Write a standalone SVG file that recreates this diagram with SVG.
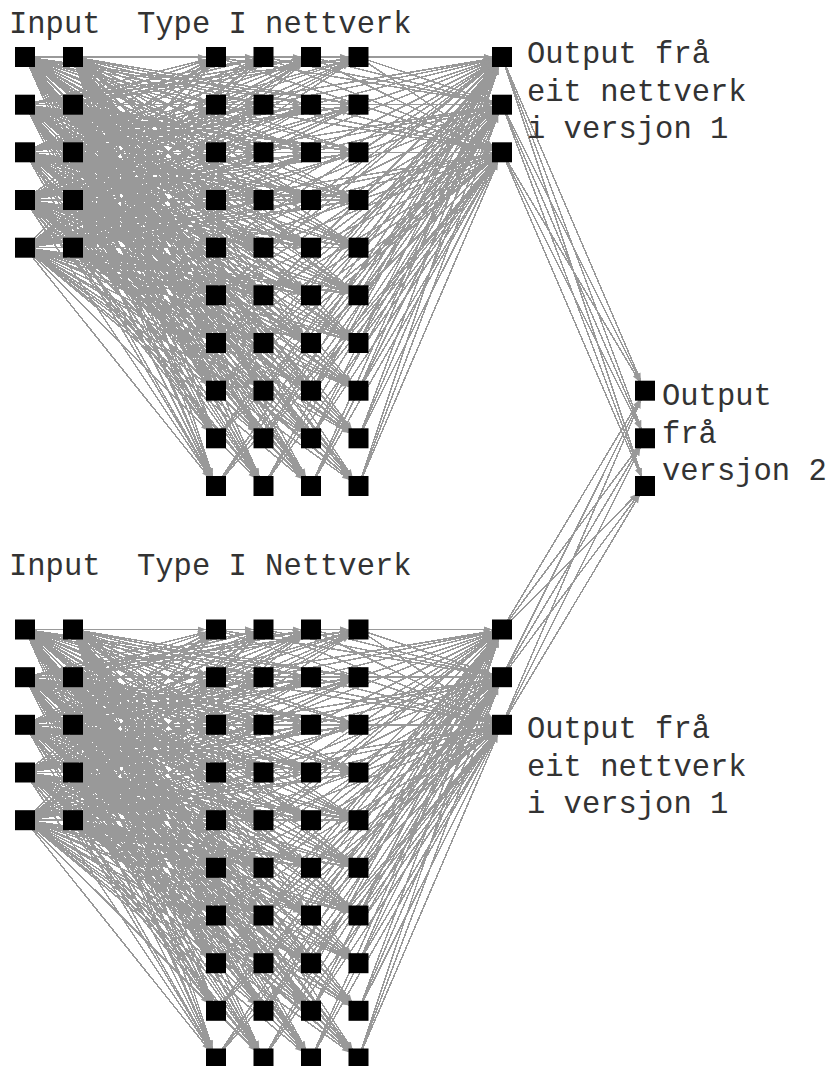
<svg xmlns="http://www.w3.org/2000/svg" xmlns:xlink="http://www.w3.org/1999/xlink" width="831" height="1066" viewBox="0 0 831 1066">
  <style>
    .n rect { fill: #000; }
    .e path { fill: none; stroke: #999; stroke-width: 1.5; marker-end: url(#ah); shape-rendering: crispEdges; }
    .t { font-family: "Liberation Mono", "Courier New", monospace; font-size: 30.5px; fill: #333; }
  </style>
  <defs>
    <!-- arrowhead whose tip stops at the edge of a 20px node square -->
    <marker id="ah" markerUnits="userSpaceOnUse" viewBox="0 0 20 8" markerWidth="20" markerHeight="8" refX="18.5" refY="4" orient="auto">
      <path d="M0 1L8 4L0 7z" fill="#999"/>
    </marker>
  </defs>
  <rect width="831" height="1066" fill="#fff"/>

  <g id="connectors">
    <!-- network A: input layer to hidden layer, hidden layer to output layer -->
    <g id="edges-a" class="e">
      <path d="M25 57L216 57"/><path d="M25 57L216 104.7"/><path d="M25 57L216 152.3"/><path d="M25 57L216 200"/><path d="M25 57L216 247.7"/><path d="M25 57L216 295.3"/><path d="M25 57L216 343"/><path d="M25 57L216 390.7"/><path d="M25 57L216 438.3"/><path d="M25 57L216 486"/>
      <path d="M25 57L263.5 57"/><path d="M25 57L263.5 104.7"/><path d="M25 57L263.5 152.3"/><path d="M25 57L263.5 200"/><path d="M25 57L263.5 247.7"/><path d="M25 57L263.5 295.3"/><path d="M25 57L263.5 343"/><path d="M25 57L263.5 390.7"/><path d="M25 57L263.5 438.3"/><path d="M25 57L263.5 486"/>
      <path d="M25 57L311 57"/><path d="M25 57L311 104.7"/><path d="M25 57L311 152.3"/><path d="M25 57L311 200"/><path d="M25 57L311 247.7"/><path d="M25 57L311 295.3"/><path d="M25 57L311 343"/><path d="M25 57L311 390.7"/><path d="M25 57L311 438.3"/><path d="M25 57L311 486"/>
      <path d="M25 57L358.5 57"/><path d="M25 57L358.5 104.7"/><path d="M25 57L358.5 152.3"/><path d="M25 57L358.5 200"/><path d="M25 57L358.5 247.7"/><path d="M25 57L358.5 295.3"/><path d="M25 57L358.5 343"/><path d="M25 57L358.5 390.7"/><path d="M25 57L358.5 438.3"/><path d="M25 57L358.5 486"/>

      <path d="M25 104.7L216 57"/><path d="M25 104.7L216 104.7"/><path d="M25 104.7L216 152.3"/><path d="M25 104.7L216 200"/><path d="M25 104.7L216 247.7"/><path d="M25 104.7L216 295.3"/><path d="M25 104.7L216 343"/><path d="M25 104.7L216 390.7"/><path d="M25 104.7L216 438.3"/><path d="M25 104.7L216 486"/>
      <path d="M25 104.7L263.5 57"/><path d="M25 104.7L263.5 104.7"/><path d="M25 104.7L263.5 152.3"/><path d="M25 104.7L263.5 200"/><path d="M25 104.7L263.5 247.7"/><path d="M25 104.7L263.5 295.3"/><path d="M25 104.7L263.5 343"/><path d="M25 104.7L263.5 390.7"/><path d="M25 104.7L263.5 438.3"/><path d="M25 104.7L263.5 486"/>
      <path d="M25 104.7L311 57"/><path d="M25 104.7L311 104.7"/><path d="M25 104.7L311 152.3"/><path d="M25 104.7L311 200"/><path d="M25 104.7L311 247.7"/><path d="M25 104.7L311 295.3"/><path d="M25 104.7L311 343"/><path d="M25 104.7L311 390.7"/><path d="M25 104.7L311 438.3"/><path d="M25 104.7L311 486"/>
      <path d="M25 104.7L358.5 57"/><path d="M25 104.7L358.5 104.7"/><path d="M25 104.7L358.5 152.3"/><path d="M25 104.7L358.5 200"/><path d="M25 104.7L358.5 247.7"/><path d="M25 104.7L358.5 295.3"/><path d="M25 104.7L358.5 343"/><path d="M25 104.7L358.5 390.7"/><path d="M25 104.7L358.5 438.3"/><path d="M25 104.7L358.5 486"/>

      <path d="M25 152.3L216 57"/><path d="M25 152.3L216 104.7"/><path d="M25 152.3L216 152.3"/><path d="M25 152.3L216 200"/><path d="M25 152.3L216 247.7"/><path d="M25 152.3L216 295.3"/><path d="M25 152.3L216 343"/><path d="M25 152.3L216 390.7"/><path d="M25 152.3L216 438.3"/><path d="M25 152.3L216 486"/>
      <path d="M25 152.3L263.5 57"/><path d="M25 152.3L263.5 104.7"/><path d="M25 152.3L263.5 152.3"/><path d="M25 152.3L263.5 200"/><path d="M25 152.3L263.5 247.7"/><path d="M25 152.3L263.5 295.3"/><path d="M25 152.3L263.5 343"/><path d="M25 152.3L263.5 390.7"/><path d="M25 152.3L263.5 438.3"/><path d="M25 152.3L263.5 486"/>
      <path d="M25 152.3L311 57"/><path d="M25 152.3L311 104.7"/><path d="M25 152.3L311 152.3"/><path d="M25 152.3L311 200"/><path d="M25 152.3L311 247.7"/><path d="M25 152.3L311 295.3"/><path d="M25 152.3L311 343"/><path d="M25 152.3L311 390.7"/><path d="M25 152.3L311 438.3"/><path d="M25 152.3L311 486"/>
      <path d="M25 152.3L358.5 57"/><path d="M25 152.3L358.5 104.7"/><path d="M25 152.3L358.5 152.3"/><path d="M25 152.3L358.5 200"/><path d="M25 152.3L358.5 247.7"/><path d="M25 152.3L358.5 295.3"/><path d="M25 152.3L358.5 343"/><path d="M25 152.3L358.5 390.7"/><path d="M25 152.3L358.5 438.3"/><path d="M25 152.3L358.5 486"/>

      <path d="M25 200L216 57"/><path d="M25 200L216 104.7"/><path d="M25 200L216 152.3"/><path d="M25 200L216 200"/><path d="M25 200L216 247.7"/><path d="M25 200L216 295.3"/><path d="M25 200L216 343"/><path d="M25 200L216 390.7"/><path d="M25 200L216 438.3"/><path d="M25 200L216 486"/>
      <path d="M25 200L263.5 57"/><path d="M25 200L263.5 104.7"/><path d="M25 200L263.5 152.3"/><path d="M25 200L263.5 200"/><path d="M25 200L263.5 247.7"/><path d="M25 200L263.5 295.3"/><path d="M25 200L263.5 343"/><path d="M25 200L263.5 390.7"/><path d="M25 200L263.5 438.3"/><path d="M25 200L263.5 486"/>
      <path d="M25 200L311 57"/><path d="M25 200L311 104.7"/><path d="M25 200L311 152.3"/><path d="M25 200L311 200"/><path d="M25 200L311 247.7"/><path d="M25 200L311 295.3"/><path d="M25 200L311 343"/><path d="M25 200L311 390.7"/><path d="M25 200L311 438.3"/><path d="M25 200L311 486"/>
      <path d="M25 200L358.5 57"/><path d="M25 200L358.5 104.7"/><path d="M25 200L358.5 152.3"/><path d="M25 200L358.5 200"/><path d="M25 200L358.5 247.7"/><path d="M25 200L358.5 295.3"/><path d="M25 200L358.5 343"/><path d="M25 200L358.5 390.7"/><path d="M25 200L358.5 438.3"/><path d="M25 200L358.5 486"/>

      <path d="M25 247.7L216 57"/><path d="M25 247.7L216 104.7"/><path d="M25 247.7L216 152.3"/><path d="M25 247.7L216 200"/><path d="M25 247.7L216 247.7"/><path d="M25 247.7L216 295.3"/><path d="M25 247.7L216 343"/><path d="M25 247.7L216 390.7"/><path d="M25 247.7L216 438.3"/><path d="M25 247.7L216 486"/>
      <path d="M25 247.7L263.5 57"/><path d="M25 247.7L263.5 104.7"/><path d="M25 247.7L263.5 152.3"/><path d="M25 247.7L263.5 200"/><path d="M25 247.7L263.5 247.7"/><path d="M25 247.7L263.5 295.3"/><path d="M25 247.7L263.5 343"/><path d="M25 247.7L263.5 390.7"/><path d="M25 247.7L263.5 438.3"/><path d="M25 247.7L263.5 486"/>
      <path d="M25 247.7L311 57"/><path d="M25 247.7L311 104.7"/><path d="M25 247.7L311 152.3"/><path d="M25 247.7L311 200"/><path d="M25 247.7L311 247.7"/><path d="M25 247.7L311 295.3"/><path d="M25 247.7L311 343"/><path d="M25 247.7L311 390.7"/><path d="M25 247.7L311 438.3"/><path d="M25 247.7L311 486"/>
      <path d="M25 247.7L358.5 57"/><path d="M25 247.7L358.5 104.7"/><path d="M25 247.7L358.5 152.3"/><path d="M25 247.7L358.5 200"/><path d="M25 247.7L358.5 247.7"/><path d="M25 247.7L358.5 295.3"/><path d="M25 247.7L358.5 343"/><path d="M25 247.7L358.5 390.7"/><path d="M25 247.7L358.5 438.3"/><path d="M25 247.7L358.5 486"/>

      <path d="M73 57L216 57"/><path d="M73 57L216 104.7"/><path d="M73 57L216 152.3"/><path d="M73 57L216 200"/><path d="M73 57L216 247.7"/><path d="M73 57L216 295.3"/><path d="M73 57L216 343"/><path d="M73 57L216 390.7"/><path d="M73 57L216 438.3"/><path d="M73 57L216 486"/>
      <path d="M73 57L263.5 57"/><path d="M73 57L263.5 104.7"/><path d="M73 57L263.5 152.3"/><path d="M73 57L263.5 200"/><path d="M73 57L263.5 247.7"/><path d="M73 57L263.5 295.3"/><path d="M73 57L263.5 343"/><path d="M73 57L263.5 390.7"/><path d="M73 57L263.5 438.3"/><path d="M73 57L263.5 486"/>
      <path d="M73 57L311 57"/><path d="M73 57L311 104.7"/><path d="M73 57L311 152.3"/><path d="M73 57L311 200"/><path d="M73 57L311 247.7"/><path d="M73 57L311 295.3"/><path d="M73 57L311 343"/><path d="M73 57L311 390.7"/><path d="M73 57L311 438.3"/><path d="M73 57L311 486"/>
      <path d="M73 57L358.5 57"/><path d="M73 57L358.5 104.7"/><path d="M73 57L358.5 152.3"/><path d="M73 57L358.5 200"/><path d="M73 57L358.5 247.7"/><path d="M73 57L358.5 295.3"/><path d="M73 57L358.5 343"/><path d="M73 57L358.5 390.7"/><path d="M73 57L358.5 438.3"/><path d="M73 57L358.5 486"/>

      <path d="M73 104.7L216 57"/><path d="M73 104.7L216 104.7"/><path d="M73 104.7L216 152.3"/><path d="M73 104.7L216 200"/><path d="M73 104.7L216 247.7"/><path d="M73 104.7L216 295.3"/><path d="M73 104.7L216 343"/><path d="M73 104.7L216 390.7"/><path d="M73 104.7L216 438.3"/><path d="M73 104.7L216 486"/>
      <path d="M73 104.7L263.5 57"/><path d="M73 104.7L263.5 104.7"/><path d="M73 104.7L263.5 152.3"/><path d="M73 104.7L263.5 200"/><path d="M73 104.7L263.5 247.7"/><path d="M73 104.7L263.5 295.3"/><path d="M73 104.7L263.5 343"/><path d="M73 104.7L263.5 390.7"/><path d="M73 104.7L263.5 438.3"/><path d="M73 104.7L263.5 486"/>
      <path d="M73 104.7L311 57"/><path d="M73 104.7L311 104.7"/><path d="M73 104.7L311 152.3"/><path d="M73 104.7L311 200"/><path d="M73 104.7L311 247.7"/><path d="M73 104.7L311 295.3"/><path d="M73 104.7L311 343"/><path d="M73 104.7L311 390.7"/><path d="M73 104.7L311 438.3"/><path d="M73 104.7L311 486"/>
      <path d="M73 104.7L358.5 57"/><path d="M73 104.7L358.5 104.7"/><path d="M73 104.7L358.5 152.3"/><path d="M73 104.7L358.5 200"/><path d="M73 104.7L358.5 247.7"/><path d="M73 104.7L358.5 295.3"/><path d="M73 104.7L358.5 343"/><path d="M73 104.7L358.5 390.7"/><path d="M73 104.7L358.5 438.3"/><path d="M73 104.7L358.5 486"/>

      <path d="M73 152.3L216 57"/><path d="M73 152.3L216 104.7"/><path d="M73 152.3L216 152.3"/><path d="M73 152.3L216 200"/><path d="M73 152.3L216 247.7"/><path d="M73 152.3L216 295.3"/><path d="M73 152.3L216 343"/><path d="M73 152.3L216 390.7"/><path d="M73 152.3L216 438.3"/><path d="M73 152.3L216 486"/>
      <path d="M73 152.3L263.5 57"/><path d="M73 152.3L263.5 104.7"/><path d="M73 152.3L263.5 152.3"/><path d="M73 152.3L263.5 200"/><path d="M73 152.3L263.5 247.7"/><path d="M73 152.3L263.5 295.3"/><path d="M73 152.3L263.5 343"/><path d="M73 152.3L263.5 390.7"/><path d="M73 152.3L263.5 438.3"/><path d="M73 152.3L263.5 486"/>
      <path d="M73 152.3L311 57"/><path d="M73 152.3L311 104.7"/><path d="M73 152.3L311 152.3"/><path d="M73 152.3L311 200"/><path d="M73 152.3L311 247.7"/><path d="M73 152.3L311 295.3"/><path d="M73 152.3L311 343"/><path d="M73 152.3L311 390.7"/><path d="M73 152.3L311 438.3"/><path d="M73 152.3L311 486"/>
      <path d="M73 152.3L358.5 57"/><path d="M73 152.3L358.5 104.7"/><path d="M73 152.3L358.5 152.3"/><path d="M73 152.3L358.5 200"/><path d="M73 152.3L358.5 247.7"/><path d="M73 152.3L358.5 295.3"/><path d="M73 152.3L358.5 343"/><path d="M73 152.3L358.5 390.7"/><path d="M73 152.3L358.5 438.3"/><path d="M73 152.3L358.5 486"/>

      <path d="M73 200L216 57"/><path d="M73 200L216 104.7"/><path d="M73 200L216 152.3"/><path d="M73 200L216 200"/><path d="M73 200L216 247.7"/><path d="M73 200L216 295.3"/><path d="M73 200L216 343"/><path d="M73 200L216 390.7"/><path d="M73 200L216 438.3"/><path d="M73 200L216 486"/>
      <path d="M73 200L263.5 57"/><path d="M73 200L263.5 104.7"/><path d="M73 200L263.5 152.3"/><path d="M73 200L263.5 200"/><path d="M73 200L263.5 247.7"/><path d="M73 200L263.5 295.3"/><path d="M73 200L263.5 343"/><path d="M73 200L263.5 390.7"/><path d="M73 200L263.5 438.3"/><path d="M73 200L263.5 486"/>
      <path d="M73 200L311 57"/><path d="M73 200L311 104.7"/><path d="M73 200L311 152.3"/><path d="M73 200L311 200"/><path d="M73 200L311 247.7"/><path d="M73 200L311 295.3"/><path d="M73 200L311 343"/><path d="M73 200L311 390.7"/><path d="M73 200L311 438.3"/><path d="M73 200L311 486"/>
      <path d="M73 200L358.5 57"/><path d="M73 200L358.5 104.7"/><path d="M73 200L358.5 152.3"/><path d="M73 200L358.5 200"/><path d="M73 200L358.5 247.7"/><path d="M73 200L358.5 295.3"/><path d="M73 200L358.5 343"/><path d="M73 200L358.5 390.7"/><path d="M73 200L358.5 438.3"/><path d="M73 200L358.5 486"/>

      <path d="M73 247.7L216 57"/><path d="M73 247.7L216 104.7"/><path d="M73 247.7L216 152.3"/><path d="M73 247.7L216 200"/><path d="M73 247.7L216 247.7"/><path d="M73 247.7L216 295.3"/><path d="M73 247.7L216 343"/><path d="M73 247.7L216 390.7"/><path d="M73 247.7L216 438.3"/><path d="M73 247.7L216 486"/>
      <path d="M73 247.7L263.5 57"/><path d="M73 247.7L263.5 104.7"/><path d="M73 247.7L263.5 152.3"/><path d="M73 247.7L263.5 200"/><path d="M73 247.7L263.5 247.7"/><path d="M73 247.7L263.5 295.3"/><path d="M73 247.7L263.5 343"/><path d="M73 247.7L263.5 390.7"/><path d="M73 247.7L263.5 438.3"/><path d="M73 247.7L263.5 486"/>
      <path d="M73 247.7L311 57"/><path d="M73 247.7L311 104.7"/><path d="M73 247.7L311 152.3"/><path d="M73 247.7L311 200"/><path d="M73 247.7L311 247.7"/><path d="M73 247.7L311 295.3"/><path d="M73 247.7L311 343"/><path d="M73 247.7L311 390.7"/><path d="M73 247.7L311 438.3"/><path d="M73 247.7L311 486"/>
      <path d="M73 247.7L358.5 57"/><path d="M73 247.7L358.5 104.7"/><path d="M73 247.7L358.5 152.3"/><path d="M73 247.7L358.5 200"/><path d="M73 247.7L358.5 247.7"/><path d="M73 247.7L358.5 295.3"/><path d="M73 247.7L358.5 343"/><path d="M73 247.7L358.5 390.7"/><path d="M73 247.7L358.5 438.3"/><path d="M73 247.7L358.5 486"/>

      <!-- hidden layer to output layer -->
      <path d="M216 57L502 57"/><path d="M216 57L502 104.7"/><path d="M216 57L502 152.3"/>
      <path d="M216 104.7L502 57"/><path d="M216 104.7L502 104.7"/><path d="M216 104.7L502 152.3"/>
      <path d="M216 152.3L502 57"/><path d="M216 152.3L502 104.7"/><path d="M216 152.3L502 152.3"/>
      <path d="M216 200L502 57"/><path d="M216 200L502 104.7"/><path d="M216 200L502 152.3"/>
      <path d="M216 247.7L502 57"/><path d="M216 247.7L502 104.7"/><path d="M216 247.7L502 152.3"/>
      <path d="M216 295.3L502 57"/><path d="M216 295.3L502 104.7"/><path d="M216 295.3L502 152.3"/>
      <path d="M216 343L502 57"/><path d="M216 343L502 104.7"/><path d="M216 343L502 152.3"/>
      <path d="M216 390.7L502 57"/><path d="M216 390.7L502 104.7"/><path d="M216 390.7L502 152.3"/>
      <path d="M216 438.3L502 57"/><path d="M216 438.3L502 104.7"/><path d="M216 438.3L502 152.3"/>
      <path d="M216 486L502 57"/><path d="M216 486L502 104.7"/><path d="M216 486L502 152.3"/>

      <path d="M263.5 57L502 57"/><path d="M263.5 57L502 104.7"/><path d="M263.5 57L502 152.3"/>
      <path d="M263.5 104.7L502 57"/><path d="M263.5 104.7L502 104.7"/><path d="M263.5 104.7L502 152.3"/>
      <path d="M263.5 152.3L502 57"/><path d="M263.5 152.3L502 104.7"/><path d="M263.5 152.3L502 152.3"/>
      <path d="M263.5 200L502 57"/><path d="M263.5 200L502 104.7"/><path d="M263.5 200L502 152.3"/>
      <path d="M263.5 247.7L502 57"/><path d="M263.5 247.7L502 104.7"/><path d="M263.5 247.7L502 152.3"/>
      <path d="M263.5 295.3L502 57"/><path d="M263.5 295.3L502 104.7"/><path d="M263.5 295.3L502 152.3"/>
      <path d="M263.5 343L502 57"/><path d="M263.5 343L502 104.7"/><path d="M263.5 343L502 152.3"/>
      <path d="M263.5 390.7L502 57"/><path d="M263.5 390.7L502 104.7"/><path d="M263.5 390.7L502 152.3"/>
      <path d="M263.5 438.3L502 57"/><path d="M263.5 438.3L502 104.7"/><path d="M263.5 438.3L502 152.3"/>
      <path d="M263.5 486L502 57"/><path d="M263.5 486L502 104.7"/><path d="M263.5 486L502 152.3"/>

      <path d="M311 57L502 57"/><path d="M311 57L502 104.7"/><path d="M311 57L502 152.3"/>
      <path d="M311 104.7L502 57"/><path d="M311 104.7L502 104.7"/><path d="M311 104.7L502 152.3"/>
      <path d="M311 152.3L502 57"/><path d="M311 152.3L502 104.7"/><path d="M311 152.3L502 152.3"/>
      <path d="M311 200L502 57"/><path d="M311 200L502 104.7"/><path d="M311 200L502 152.3"/>
      <path d="M311 247.7L502 57"/><path d="M311 247.7L502 104.7"/><path d="M311 247.7L502 152.3"/>
      <path d="M311 295.3L502 57"/><path d="M311 295.3L502 104.7"/><path d="M311 295.3L502 152.3"/>
      <path d="M311 343L502 57"/><path d="M311 343L502 104.7"/><path d="M311 343L502 152.3"/>
      <path d="M311 390.7L502 57"/><path d="M311 390.7L502 104.7"/><path d="M311 390.7L502 152.3"/>
      <path d="M311 438.3L502 57"/><path d="M311 438.3L502 104.7"/><path d="M311 438.3L502 152.3"/>
      <path d="M311 486L502 57"/><path d="M311 486L502 104.7"/><path d="M311 486L502 152.3"/>

      <path d="M358.5 57L502 57"/><path d="M358.5 57L502 104.7"/><path d="M358.5 57L502 152.3"/>
      <path d="M358.5 104.7L502 57"/><path d="M358.5 104.7L502 104.7"/><path d="M358.5 104.7L502 152.3"/>
      <path d="M358.5 152.3L502 57"/><path d="M358.5 152.3L502 104.7"/><path d="M358.5 152.3L502 152.3"/>
      <path d="M358.5 200L502 57"/><path d="M358.5 200L502 104.7"/><path d="M358.5 200L502 152.3"/>
      <path d="M358.5 247.7L502 57"/><path d="M358.5 247.7L502 104.7"/><path d="M358.5 247.7L502 152.3"/>
      <path d="M358.5 295.3L502 57"/><path d="M358.5 295.3L502 104.7"/><path d="M358.5 295.3L502 152.3"/>
      <path d="M358.5 343L502 57"/><path d="M358.5 343L502 104.7"/><path d="M358.5 343L502 152.3"/>
      <path d="M358.5 390.7L502 57"/><path d="M358.5 390.7L502 104.7"/><path d="M358.5 390.7L502 152.3"/>
      <path d="M358.5 438.3L502 57"/><path d="M358.5 438.3L502 104.7"/><path d="M358.5 438.3L502 152.3"/>
      <path d="M358.5 486L502 57"/><path d="M358.5 486L502 104.7"/><path d="M358.5 486L502 152.3"/>
    </g>

    <!-- network B is wired the same way, one block lower -->
    <use id="edges-b" xlink:href="#edges-a" href="#edges-a" transform="translate(0 572.5)"/>

    <!-- both version-1 outputs feed the version-2 outputs -->
    <g id="edges-v2" class="e">
      <path d="M502 57L645 390.7"/><path d="M502 57L645 438.3"/><path d="M502 57L645 486"/>
      <path d="M502 104.7L645 390.7"/><path d="M502 104.7L645 438.3"/><path d="M502 104.7L645 486"/>
      <path d="M502 152.3L645 390.7"/><path d="M502 152.3L645 438.3"/><path d="M502 152.3L645 486"/>
      <path d="M502 629.5L645 390.7"/><path d="M502 629.5L645 438.3"/><path d="M502 629.5L645 486"/>
      <path d="M502 677.2L645 390.7"/><path d="M502 677.2L645 438.3"/><path d="M502 677.2L645 486"/>
      <path d="M502 724.8L645 390.7"/><path d="M502 724.8L645 438.3"/><path d="M502 724.8L645 486"/>
    </g>
  </g>

  <!-- network A nodes -->
  <g id="a-in-1" class="n"><rect x="15" y="47" width="20" height="20"/></g>
  <g id="a-in-2" class="n"><rect x="15" y="94.7" width="20" height="20"/></g>
  <g id="a-in-3" class="n"><rect x="15" y="142.3" width="20" height="20"/></g>
  <g id="a-in-4" class="n"><rect x="15" y="190" width="20" height="20"/></g>
  <g id="a-in-5" class="n"><rect x="15" y="237.7" width="20" height="20"/></g>
  <g id="a-in-6" class="n"><rect x="63" y="47" width="20" height="20"/></g>
  <g id="a-in-7" class="n"><rect x="63" y="94.7" width="20" height="20"/></g>
  <g id="a-in-8" class="n"><rect x="63" y="142.3" width="20" height="20"/></g>
  <g id="a-in-9" class="n"><rect x="63" y="190" width="20" height="20"/></g>
  <g id="a-in-10" class="n"><rect x="63" y="237.7" width="20" height="20"/></g>

  <g id="a-h-1" class="n"><rect x="206" y="47" width="20" height="20"/></g>
  <g id="a-h-2" class="n"><rect x="206" y="94.7" width="20" height="20"/></g>
  <g id="a-h-3" class="n"><rect x="206" y="142.3" width="20" height="20"/></g>
  <g id="a-h-4" class="n"><rect x="206" y="190" width="20" height="20"/></g>
  <g id="a-h-5" class="n"><rect x="206" y="237.7" width="20" height="20"/></g>
  <g id="a-h-6" class="n"><rect x="206" y="285.3" width="20" height="20"/></g>
  <g id="a-h-7" class="n"><rect x="206" y="333" width="20" height="20"/></g>
  <g id="a-h-8" class="n"><rect x="206" y="380.7" width="20" height="20"/></g>
  <g id="a-h-9" class="n"><rect x="206" y="428.3" width="20" height="20"/></g>
  <g id="a-h-10" class="n"><rect x="206" y="476" width="20" height="20"/></g>
  <g id="a-h-11" class="n"><rect x="253.5" y="47" width="20" height="20"/></g>
  <g id="a-h-12" class="n"><rect x="253.5" y="94.7" width="20" height="20"/></g>
  <g id="a-h-13" class="n"><rect x="253.5" y="142.3" width="20" height="20"/></g>
  <g id="a-h-14" class="n"><rect x="253.5" y="190" width="20" height="20"/></g>
  <g id="a-h-15" class="n"><rect x="253.5" y="237.7" width="20" height="20"/></g>
  <g id="a-h-16" class="n"><rect x="253.5" y="285.3" width="20" height="20"/></g>
  <g id="a-h-17" class="n"><rect x="253.5" y="333" width="20" height="20"/></g>
  <g id="a-h-18" class="n"><rect x="253.5" y="380.7" width="20" height="20"/></g>
  <g id="a-h-19" class="n"><rect x="253.5" y="428.3" width="20" height="20"/></g>
  <g id="a-h-20" class="n"><rect x="253.5" y="476" width="20" height="20"/></g>
  <g id="a-h-21" class="n"><rect x="301" y="47" width="20" height="20"/></g>
  <g id="a-h-22" class="n"><rect x="301" y="94.7" width="20" height="20"/></g>
  <g id="a-h-23" class="n"><rect x="301" y="142.3" width="20" height="20"/></g>
  <g id="a-h-24" class="n"><rect x="301" y="190" width="20" height="20"/></g>
  <g id="a-h-25" class="n"><rect x="301" y="237.7" width="20" height="20"/></g>
  <g id="a-h-26" class="n"><rect x="301" y="285.3" width="20" height="20"/></g>
  <g id="a-h-27" class="n"><rect x="301" y="333" width="20" height="20"/></g>
  <g id="a-h-28" class="n"><rect x="301" y="380.7" width="20" height="20"/></g>
  <g id="a-h-29" class="n"><rect x="301" y="428.3" width="20" height="20"/></g>
  <g id="a-h-30" class="n"><rect x="301" y="476" width="20" height="20"/></g>
  <g id="a-h-31" class="n"><rect x="348.5" y="47" width="20" height="20"/></g>
  <g id="a-h-32" class="n"><rect x="348.5" y="94.7" width="20" height="20"/></g>
  <g id="a-h-33" class="n"><rect x="348.5" y="142.3" width="20" height="20"/></g>
  <g id="a-h-34" class="n"><rect x="348.5" y="190" width="20" height="20"/></g>
  <g id="a-h-35" class="n"><rect x="348.5" y="237.7" width="20" height="20"/></g>
  <g id="a-h-36" class="n"><rect x="348.5" y="285.3" width="20" height="20"/></g>
  <g id="a-h-37" class="n"><rect x="348.5" y="333" width="20" height="20"/></g>
  <g id="a-h-38" class="n"><rect x="348.5" y="380.7" width="20" height="20"/></g>
  <g id="a-h-39" class="n"><rect x="348.5" y="428.3" width="20" height="20"/></g>
  <g id="a-h-40" class="n"><rect x="348.5" y="476" width="20" height="20"/></g>

  <g id="a-out-1" class="n"><rect x="492" y="47" width="20" height="20"/></g>
  <g id="a-out-2" class="n"><rect x="492" y="94.7" width="20" height="20"/></g>
  <g id="a-out-3" class="n"><rect x="492" y="142.3" width="20" height="20"/></g>

  <!-- version-2 outputs -->
  <g id="v2-out-1" class="n"><rect x="635" y="380.7" width="20" height="20"/></g>
  <g id="v2-out-2" class="n"><rect x="635" y="428.3" width="20" height="20"/></g>
  <g id="v2-out-3" class="n"><rect x="635" y="476" width="20" height="20"/></g>

  <!-- network B nodes -->
  <g id="b-in-1" class="n"><rect x="15" y="619.5" width="20" height="20"/></g>
  <g id="b-in-2" class="n"><rect x="15" y="667.2" width="20" height="20"/></g>
  <g id="b-in-3" class="n"><rect x="15" y="714.8" width="20" height="20"/></g>
  <g id="b-in-4" class="n"><rect x="15" y="762.5" width="20" height="20"/></g>
  <g id="b-in-5" class="n"><rect x="15" y="810.2" width="20" height="20"/></g>
  <g id="b-in-6" class="n"><rect x="63" y="619.5" width="20" height="20"/></g>
  <g id="b-in-7" class="n"><rect x="63" y="667.2" width="20" height="20"/></g>
  <g id="b-in-8" class="n"><rect x="63" y="714.8" width="20" height="20"/></g>
  <g id="b-in-9" class="n"><rect x="63" y="762.5" width="20" height="20"/></g>
  <g id="b-in-10" class="n"><rect x="63" y="810.2" width="20" height="20"/></g>

  <g id="b-h-1" class="n"><rect x="206" y="619.5" width="20" height="20"/></g>
  <g id="b-h-2" class="n"><rect x="206" y="667.2" width="20" height="20"/></g>
  <g id="b-h-3" class="n"><rect x="206" y="714.8" width="20" height="20"/></g>
  <g id="b-h-4" class="n"><rect x="206" y="762.5" width="20" height="20"/></g>
  <g id="b-h-5" class="n"><rect x="206" y="810.2" width="20" height="20"/></g>
  <g id="b-h-6" class="n"><rect x="206" y="857.8" width="20" height="20"/></g>
  <g id="b-h-7" class="n"><rect x="206" y="905.5" width="20" height="20"/></g>
  <g id="b-h-8" class="n"><rect x="206" y="953.2" width="20" height="20"/></g>
  <g id="b-h-9" class="n"><rect x="206" y="1000.8" width="20" height="20"/></g>
  <g id="b-h-10" class="n"><rect x="206" y="1048.5" width="20" height="20"/></g>
  <g id="b-h-11" class="n"><rect x="253.5" y="619.5" width="20" height="20"/></g>
  <g id="b-h-12" class="n"><rect x="253.5" y="667.2" width="20" height="20"/></g>
  <g id="b-h-13" class="n"><rect x="253.5" y="714.8" width="20" height="20"/></g>
  <g id="b-h-14" class="n"><rect x="253.5" y="762.5" width="20" height="20"/></g>
  <g id="b-h-15" class="n"><rect x="253.5" y="810.2" width="20" height="20"/></g>
  <g id="b-h-16" class="n"><rect x="253.5" y="857.8" width="20" height="20"/></g>
  <g id="b-h-17" class="n"><rect x="253.5" y="905.5" width="20" height="20"/></g>
  <g id="b-h-18" class="n"><rect x="253.5" y="953.2" width="20" height="20"/></g>
  <g id="b-h-19" class="n"><rect x="253.5" y="1000.8" width="20" height="20"/></g>
  <g id="b-h-20" class="n"><rect x="253.5" y="1048.5" width="20" height="20"/></g>
  <g id="b-h-21" class="n"><rect x="301" y="619.5" width="20" height="20"/></g>
  <g id="b-h-22" class="n"><rect x="301" y="667.2" width="20" height="20"/></g>
  <g id="b-h-23" class="n"><rect x="301" y="714.8" width="20" height="20"/></g>
  <g id="b-h-24" class="n"><rect x="301" y="762.5" width="20" height="20"/></g>
  <g id="b-h-25" class="n"><rect x="301" y="810.2" width="20" height="20"/></g>
  <g id="b-h-26" class="n"><rect x="301" y="857.8" width="20" height="20"/></g>
  <g id="b-h-27" class="n"><rect x="301" y="905.5" width="20" height="20"/></g>
  <g id="b-h-28" class="n"><rect x="301" y="953.2" width="20" height="20"/></g>
  <g id="b-h-29" class="n"><rect x="301" y="1000.8" width="20" height="20"/></g>
  <g id="b-h-30" class="n"><rect x="301" y="1048.5" width="20" height="20"/></g>
  <g id="b-h-31" class="n"><rect x="348.5" y="619.5" width="20" height="20"/></g>
  <g id="b-h-32" class="n"><rect x="348.5" y="667.2" width="20" height="20"/></g>
  <g id="b-h-33" class="n"><rect x="348.5" y="714.8" width="20" height="20"/></g>
  <g id="b-h-34" class="n"><rect x="348.5" y="762.5" width="20" height="20"/></g>
  <g id="b-h-35" class="n"><rect x="348.5" y="810.2" width="20" height="20"/></g>
  <g id="b-h-36" class="n"><rect x="348.5" y="857.8" width="20" height="20"/></g>
  <g id="b-h-37" class="n"><rect x="348.5" y="905.5" width="20" height="20"/></g>
  <g id="b-h-38" class="n"><rect x="348.5" y="953.2" width="20" height="20"/></g>
  <g id="b-h-39" class="n"><rect x="348.5" y="1000.8" width="20" height="20"/></g>
  <g id="b-h-40" class="n"><rect x="348.5" y="1048.5" width="20" height="20"/></g>

  <g id="b-out-1" class="n"><rect x="492" y="619.5" width="20" height="20"/></g>
  <g id="b-out-2" class="n"><rect x="492" y="667.2" width="20" height="20"/></g>
  <g id="b-out-3" class="n"><rect x="492" y="714.8" width="20" height="20"/></g>

  <!-- labels -->
  <g id="labels" class="t">
    <text x="9" y="33">Input</text>
    <text x="137" y="33">Type I nettverk</text>
    <text x="527" y="63">Output frå</text>
    <text x="527" y="101">eit nettverk</text>
    <text x="527" y="138">i versjon 1</text>
    <text x="662" y="405">Output</text>
    <text x="662" y="443">frå</text>
    <text x="662" y="480">versjon 2</text>
    <text x="9" y="575">Input</text>
    <text x="137" y="575">Type I Nettverk</text>
    <text x="527" y="738">Output frå</text>
    <text x="527" y="775.5">eit nettverk</text>
    <text x="527" y="812.5">i versjon 1</text>
  </g>
</svg>
